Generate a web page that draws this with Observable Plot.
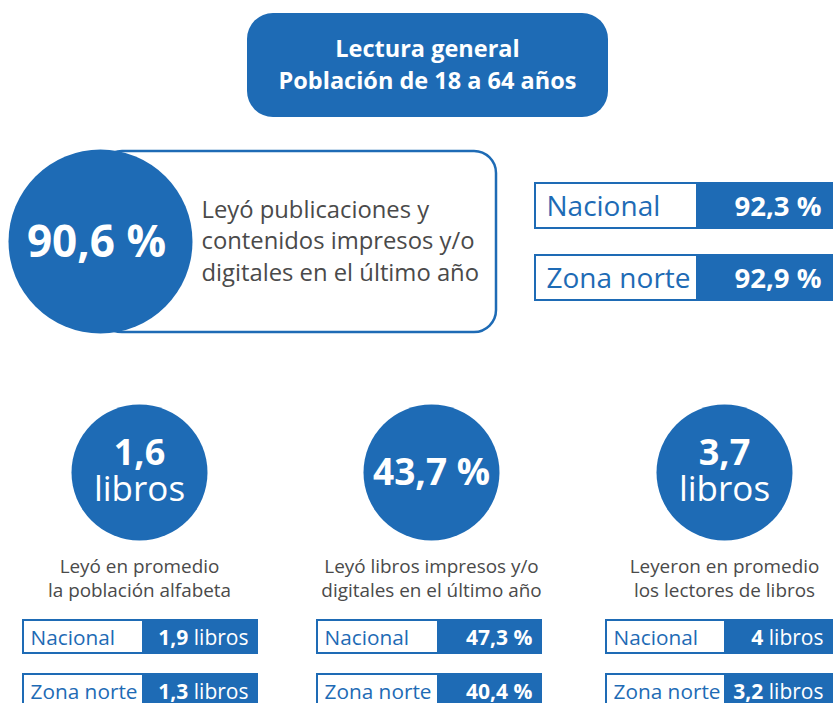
<!DOCTYPE html>
<html>
<head>
<meta charset="utf-8">
<script src="https://cdn.jsdelivr.net/npm/d3@7"></script>
<script src="https://cdn.jsdelivr.net/npm/@observablehq/plot@0.6"></script>
<style>
  html, body { margin: 0; padding: 0; background: #ffffff; }
  #chart svg { display: block; }
</style>
</head>
<body>
<div id="chart"></div>
<script>
// ---------- DATA ----------
const titleLines = ["Lectura general", "Población de 18 a 64 años"];
const headValue = "90,6 %";
const headDesc = ["Leyó publicaciones y", "contenidos impresos y/o", "digitales en el último año"];
const rowLabels = ["Nacional", "Zona norte"];
const headCompare = ["92,3 %", "92,9 %"];
const cardValue = ["1,6", "43,7 %", "3,7"];
const cardUnit = ["libros", "", "libros"];
const cardDesc = [
  ["Leyó en promedio", "la población alfabeta"],
  ["Leyó libros impresos y/o", "digitales en el último año"],
  ["Leyeron en promedio", "los lectores de libros"]
];
const cardNacional = ["1,9", "47,3 %", "4"];
const cardZonaNorte = ["1,3", "40,4 %", "3,2"];

// ---------- LAYOUT / STYLE ----------
const W = 833, H = 703;
const blue = "#1e6bb5", gray = "#4a4a4a";
const FAM = "Open Sans";
const FONT = "'Open Sans', 'Noto Sans', sans-serif";
const L = {
  title: {x1: 247, x2: 608, y1: 13, y2: 117, cx: 427, base: 56, gap: 32, size: 23.5},
  head: {cx: 100, cy: 241, r: 92, boxX2: 496, y1: 151, y2: 332, textX: 201, base: 217, gap: 31.5, size: 23.8, valueSize: 44},
  cmp: {x1: 535, split: 696, x2: 832, y0: 183, step: 72, h: 45, base: 32, labelSize: 28, valueSize: 27.5},
  cards: {cx: [139, 431, 724], cy: 472, r: 68, descBase: 572, descGap: 24, descSize: 18.9,
          numSize: 36, pctSize: 37, unitSize: 35,
          boxes: [[23, 142, 257], [317, 437, 541], [606, 724, 832]],
          boxY0: 620, boxStep: 54, boxH: 33, boxBase: 24, labelSize: 20.8, valueSize: 21}
};

const ctx = document.createElement("canvas").getContext("2d");
function tw(s, size, weight) { ctx.font = `${weight} ${size}px '${FAM}'`; return ctx.measureText(s).width; }

// headline comparison rows
const cmpRows = rowLabels.map((label, i) => ({label, value: headCompare[i], y1: L.cmp.y0 + i * L.cmp.step}));

// card box rows
const boxRows = [];
cardValue.forEach((v, c) => {
  [cardNacional[c], cardZonaNorte[c]].forEach((num, r) => {
    const [x1, split, x2] = L.cards.boxes[c];
    const right = x2 - 9;
    const unit = cardUnit[c];
    const unitW = unit ? tw(" " + unit, L.cards.valueSize, 400) : 0;
    boxRows.push({label: rowLabels[r], num, unit, x1, split, x2, right, numX: right - unitW,
      y1: L.cards.boxY0 + r * L.cards.boxStep});
  });
});
const cards = cardValue.map((v, i) => ({value: v, unit: cardUnit[i], cx: L.cards.cx[i]}));
const descLines = cardDesc.flatMap((lines, c) => lines.map((t, j) => ({t, x: L.cards.cx[c], y: L.cards.descBase + j * L.cards.descGap})));

const chart = Plot.plot({
  width: W, height: H, margin: 0,
  x: {domain: [0, W], range: [0, W], axis: null},
  y: {domain: [0, H], range: [0, H], axis: null},
  style: {fontFamily: FONT, background: "#ffffff"},
  marks: [
    // title
    Plot.rect([0], {x1: L.title.x1, x2: L.title.x2, y1: L.title.y1, y2: L.title.y2, rx: 26, fill: blue}),
    Plot.text(titleLines, {x: () => L.title.cx, y: (d, i) => L.title.base + i * L.title.gap, text: d => d,
      fill: "white", fontSize: L.title.size, fontWeight: "bold", lineAnchor: "bottom"}),
    // headline
    Plot.rect([0], {x1: L.head.cx, x2: L.head.boxX2, y1: L.head.y1, y2: L.head.y2, rx: 22, fill: "white", stroke: blue, strokeWidth: 2.5}),
    Plot.dot([headValue], {x: () => L.head.cx, y: () => L.head.cy, r: L.head.r, fill: blue}),
    Plot.text([headValue], {x: () => L.head.cx - 4, y: () => L.head.cy + 15, text: d => d, fill: "white",
      fontSize: L.head.valueSize, fontWeight: "bold", lineAnchor: "bottom"}),
    Plot.text(headDesc, {x: () => L.head.textX, y: (d, i) => L.head.base + i * L.head.gap, text: d => d,
      fill: gray, fontSize: L.head.size, textAnchor: "start", lineAnchor: "bottom"}),
    // headline comparisons
    Plot.rect(cmpRows, {x1: () => L.cmp.x1, x2: () => L.cmp.x2, y1: "y1", y2: d => d.y1 + L.cmp.h, fill: "white", stroke: blue, strokeWidth: 2}),
    Plot.rect(cmpRows, {x1: () => L.cmp.split, x2: () => L.cmp.x2 + 1, y1: d => d.y1 - 1, y2: d => d.y1 + L.cmp.h + 1, fill: blue}),
    Plot.text(cmpRows, {x: () => L.cmp.x1 + 11, y: d => d.y1 + L.cmp.base, text: "label", fill: blue,
      fontSize: L.cmp.labelSize, textAnchor: "start", lineAnchor: "bottom"}),
    Plot.text(cmpRows, {x: () => L.cmp.x2 - 11, y: d => d.y1 + L.cmp.base, text: "value", fill: "white",
      fontSize: L.cmp.valueSize, fontWeight: "bold", textAnchor: "end", lineAnchor: "bottom"}),
    // cards
    Plot.dot(cards, {x: "cx", y: () => L.cards.cy, r: L.cards.r, fill: blue}),
    Plot.text(cards.filter(d => d.unit), {x: "cx", y: () => L.cards.cy - 8, text: "value", fill: "white",
      fontSize: L.cards.numSize, fontWeight: "bold", lineAnchor: "bottom"}),
    Plot.text(cards.filter(d => !d.unit), {x: "cx", y: () => L.cards.cy + 12, text: "value", fill: "white",
      fontSize: L.cards.pctSize, fontWeight: "bold", lineAnchor: "bottom"}),
    Plot.text(cards.filter(d => d.unit), {x: "cx", y: () => L.cards.cy + 28, text: "unit", fill: "white",
      fontSize: L.cards.unitSize, lineAnchor: "bottom"}),
    Plot.text(descLines, {x: "x", y: "y", text: "t", fill: gray, fontSize: L.cards.descSize, lineAnchor: "bottom"}),
    // card boxes
    Plot.rect(boxRows, {x1: "x1", x2: "x2", y1: "y1", y2: d => d.y1 + L.cards.boxH, fill: "white", stroke: blue, strokeWidth: 2}),
    Plot.rect(boxRows, {x1: "split", x2: d => d.x2 + 1, y1: d => d.y1 - 1, y2: d => d.y1 + L.cards.boxH + 1, fill: blue}),
    Plot.text(boxRows, {x: d => d.x1 + 7, y: d => d.y1 + L.cards.boxBase, text: "label", fill: blue,
      fontSize: L.cards.labelSize, textAnchor: "start", lineAnchor: "bottom"}),
    Plot.text(boxRows.filter(d => d.unit), {x: "right", y: d => d.y1 + L.cards.boxBase, text: d => d.unit, fill: "white",
      fontSize: L.cards.valueSize, textAnchor: "end", lineAnchor: "bottom"}),
    Plot.text(boxRows, {x: "numX", y: d => d.y1 + L.cards.boxBase, text: "num", fill: "white",
      fontSize: L.cards.valueSize, fontWeight: "bold", textAnchor: "end", lineAnchor: "bottom"})
  ]
});
document.getElementById("chart").appendChild(chart);
</script>
</body>
</html>
